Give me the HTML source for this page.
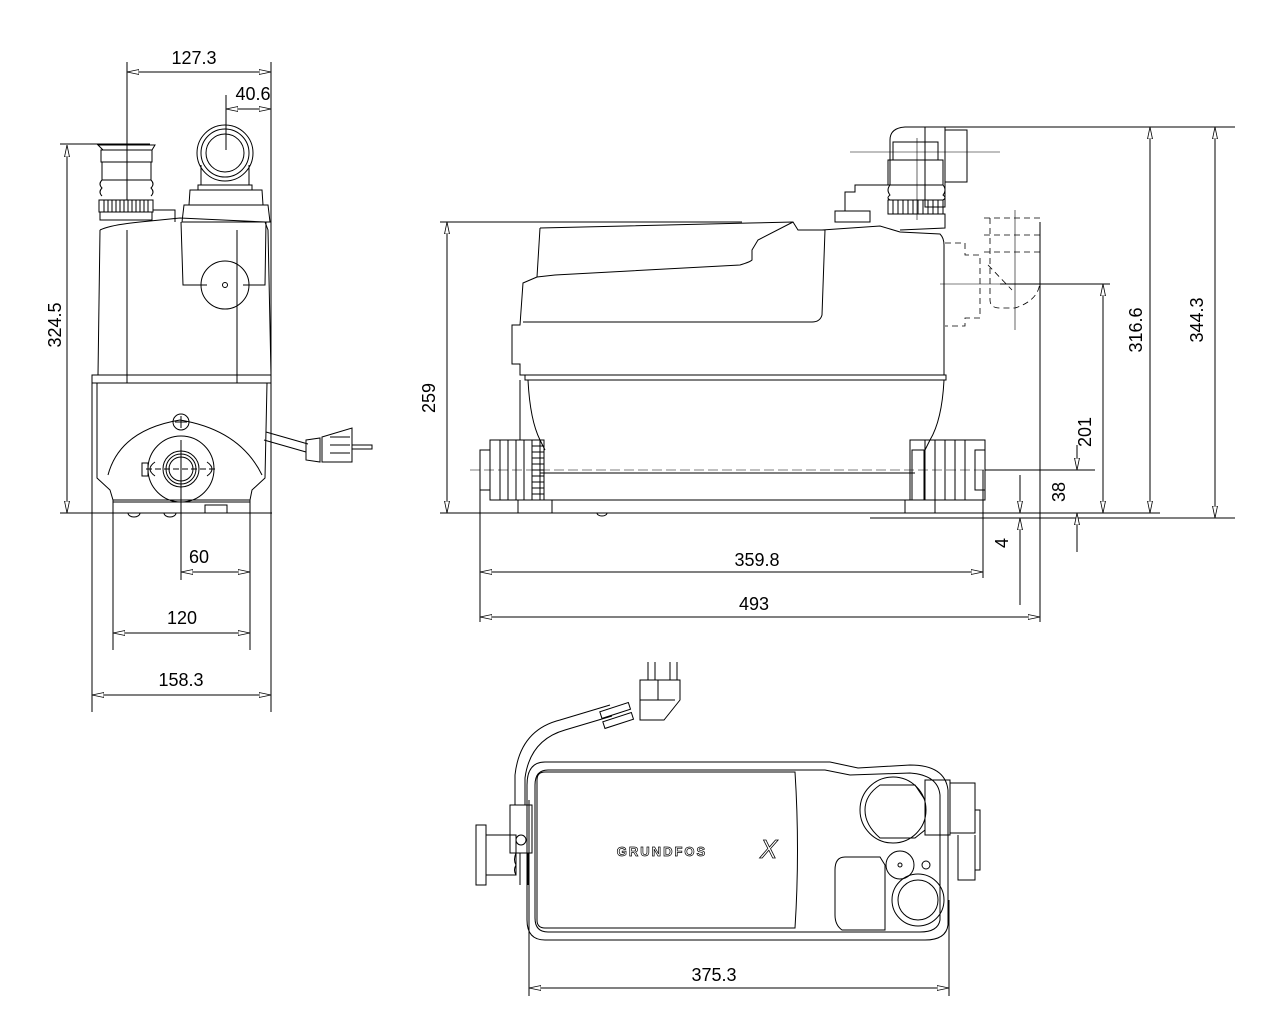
<!DOCTYPE html>
<html><head><meta charset="utf-8"><style>
html,body{margin:0;padding:0;background:#fff;}
svg{display:block}
text{font-family:"Liberation Sans",Arial,sans-serif;font-size:18px;fill:#000}
</style></head><body>
<svg width="1280" height="1024" viewBox="0 0 1280 1024" xmlns="http://www.w3.org/2000/svg">
<defs>
<marker id="a" viewBox="0 0 12 6" refX="12" refY="3" markerWidth="12" markerHeight="6" orient="auto-start-reverse" markerUnits="userSpaceOnUse">
<path d="M12,3 L0,0.5 L0,5.5 Z" fill="#fff" stroke="#000" stroke-width="0.8"/>
</marker>
</defs>
<g stroke="#000" stroke-width="1" fill="none">
<!-- ===== FRONT VIEW ===== -->
<line x1="127" y1="62" x2="127" y2="200"/>
<line x1="271" y1="62" x2="271" y2="712"/>
<line x1="226" y1="95" x2="226" y2="150"/>
<line x1="60" y1="144" x2="150" y2="144"/>
<line x1="60" y1="513" x2="272" y2="513"/>
<line x1="92" y1="375" x2="92" y2="712"/>
<line x1="113" y1="500" x2="113" y2="650"/>
<line x1="181" y1="440" x2="181" y2="580"/>
<line x1="250" y1="500" x2="250" y2="650"/>
<line x1="127" y1="72" x2="271" y2="72" marker-start="url(#a)" marker-end="url(#a)"/>
<line x1="226" y1="109" x2="271" y2="109" marker-start="url(#a)" marker-end="url(#a)"/>
<line x1="67" y1="145" x2="67" y2="513" marker-start="url(#a)" marker-end="url(#a)"/>
<line x1="181" y1="572" x2="250" y2="572" marker-start="url(#a)" marker-end="url(#a)"/>
<line x1="113" y1="633" x2="250" y2="633" marker-start="url(#a)" marker-end="url(#a)"/>
<line x1="92" y1="695" x2="271" y2="695" marker-start="url(#a)" marker-end="url(#a)"/>
<path d="M100,230 L98,375 M92,375 L271,375 L271,383 L92,383 Z M97,383 L97,478 L110,490 L113,500 L250,500 L252,490 L265,478 L267,383"/>
<path d="M100,230 Q110,225 140,222 L180,218 L265,222 L268,230 L271,375"/>
<line x1="127" y1="230" x2="127" y2="383"/>
<line x1="237" y1="230" x2="237" y2="383"/>
<path d="M113,500 L113,513 M250,500 L250,513 M113,502 L250,502"/>
<path d="M98,145 L155,145 L152,150 L103,150 Z"/>
<rect x="101" y="150" width="51" height="12"/>
<rect x="102" y="162" width="49" height="18"/>
<path d="M102,180 Q98,184 102,188 Q98,192 102,196 M151,180 Q155,184 151,188 Q155,192 151,196"/>
<rect x="99" y="200" width="54" height="12"/>
<path d="M104,200 v12 M108,200 v12 M112,200 v12 M116,200 v12 M120,200 v12 M124,200 v12 M128,200 v12 M132,200 v12 M136,200 v12 M140,200 v12 M144,200 v12 M148,200 v12"/>
<rect x="100" y="212" width="52" height="8"/>
<path d="M153,210 L175,210 L175,222"/>
<circle cx="225" cy="153" r="28"/><circle cx="225" cy="153" r="24"/><circle cx="225" cy="153" r="19"/>
<path d="M201,165 L201,185 M249,165 L249,185 M198,185 L252,185 L252,190 L198,190 Z"/>
<path d="M190,190 L262,190 L263,205 L189,205 Z M184,205 L268,205 L270,222 L182,222 Z"/>
<path d="M181,222 L183,285 L207,285 M243,285 L265,285 L266,222"/>
<circle cx="225" cy="285" r="24"/><circle cx="225" cy="285" r="2.5"/>
<path d="M108,475 Q120,430 180,420 Q240,430 262,475"/>
<circle cx="181" cy="422" r="8"/><line x1="175" y1="422" x2="187" y2="422"/><line x1="181" y1="416" x2="181" y2="428"/>
<circle cx="181" cy="469" r="33"/>
<path d="M155,462 Q145,469 155,476 M207,462 Q217,469 207,476"/>
<circle cx="181" cy="469" r="18"/><circle cx="181" cy="469" r="15"/><circle cx="181" cy="469" r="12"/>
<rect x="142" y="463" width="6" height="13"/>
<path d="M146,469 L216,469" stroke-dasharray="6,3"/>
<path d="M266,432 L308,444 M264,440 L306,452"/>
<path d="M306,440 L320,438 L320,462 L306,460 Z"/>
<path d="M322,437 L352,428 L352,462 L322,462 Z M330,437 L350,437 M330,445 L350,445 M330,453 L350,453 M352,445 L372,445 L372,449 L352,449"/>
<path d="M128,513 a6,4 0 0 0 12,0 M164,513 a6,4 0 0 0 12,0"/>
<rect x="205" y="505" width="22" height="8"/>

<!-- ===== SIDE VIEW ===== -->
<line x1="440" y1="222" x2="742" y2="222"/>
<line x1="440" y1="513" x2="1160" y2="513"/>
<line x1="870" y1="518" x2="1235" y2="518"/>
<line x1="945" y1="127" x2="1235" y2="127"/>
<line x1="1000" y1="284" x2="1110" y2="284"/>
<line x1="985" y1="470" x2="1095" y2="470"/>
<line x1="480" y1="460" x2="480" y2="622"/>
<line x1="983" y1="470" x2="983" y2="578"/>
<line x1="1040" y1="222" x2="1040" y2="622"/>
<line x1="447" y1="222" x2="447" y2="513" marker-start="url(#a)" marker-end="url(#a)"/>
<line x1="1150" y1="127" x2="1150" y2="513" marker-start="url(#a)" marker-end="url(#a)"/>
<line x1="1215" y1="127" x2="1215" y2="518" marker-start="url(#a)" marker-end="url(#a)"/>
<line x1="1103" y1="284" x2="1103" y2="513" marker-start="url(#a)" marker-end="url(#a)"/>
<line x1="1077" y1="445" x2="1077" y2="470" marker-end="url(#a)"/>
<line x1="1077" y1="552" x2="1077" y2="513" marker-end="url(#a)"/>
<line x1="1020" y1="475" x2="1020" y2="513" marker-end="url(#a)"/>
<line x1="1020" y1="605" x2="1020" y2="518" marker-end="url(#a)"/>
<line x1="480" y1="572" x2="983" y2="572" marker-start="url(#a)" marker-end="url(#a)"/>
<line x1="480" y1="617" x2="1040" y2="617" marker-start="url(#a)" marker-end="url(#a)"/>
<path d="M540,228 L750,223 L793,222 L798,230 L825,230 L822,315 Q820,322 812,322 L523,322"/>
<path d="M540,228 L537,277 L523,283 L520,325 L512,325 L512,364 L520,364 L520,375 L525,375"/>
<path d="M537,277 L555,275 L740,265 Q750,262 752,260 L752,250 L758,240 L793,222"/>
<path d="M822,230 L880,226 L900,232 L940,234 Q944,238 944,245 L944,375"/>
<rect x="525" y="375" width="421" height="5"/>
<path d="M528,380 Q530,420 540,440 L545,450 M944,380 Q942,420 930,440 L925,450"/>
<line x1="540" y1="473" x2="915" y2="473"/>
<line x1="540" y1="500" x2="915" y2="500"/>
<path d="M520,380 L520,440"/>
<rect x="490" y="440" width="50" height="60"/>
<rect x="480" y="450" width="10" height="40"/>
<path d="M490,440 v60 M500,440 v60 M508,440 v60 M516,440 v60 M524,440 v60"/>
<rect x="532" y="440" width="12" height="60"/>
<path d="M532,446 h12 M532,452 h12 M532,458 h12 M532,464 h12 M532,470 h12 M532,476 h12 M532,482 h12 M532,488 h12 M532,494 h12"/>
<rect x="518" y="500" width="34" height="13"/>
<rect x="910" y="440" width="75" height="60"/>
<rect x="975" y="450" width="10" height="40"/>
<path d="M925,440 v60 M935,440 v60 M945,440 v60 M955,440 v60 M965,440 v60"/>
<rect x="912" y="450" width="12" height="50"/>
<rect x="905" y="500" width="30" height="13"/>
<path d="M470,470 L995,470" stroke-dasharray="10,4" stroke-width="0.6"/>
<rect x="835" y="211" width="35" height="11"/>
<path d="M845,211 L845,192 L855,192 L855,185 L890,185 L890,140 Q890,128 905,127 L925,127"/>
<rect x="888" y="200" width="55" height="14"/>
<path d="M893,200 v14 M898,200 v14 M903,200 v14 M908,200 v14 M913,200 v14 M918,200 v14 M923,200 v14 M928,200 v14 M933,200 v14 M938,200 v14"/>
<path d="M888,214 L945,214 L945,228 L900,230"/>
<path d="M890,185 Q886,190 890,195 Q886,198 890,200 M943,185 Q947,190 943,195 Q947,198 943,200"/>
<rect x="888" y="160" width="55" height="25"/>
<rect x="893" y="142" width="45" height="18"/>
<rect x="925" y="127" width="20" height="80"/>
<rect x="945" y="130" width="22" height="52"/>
<line x1="850" y1="152" x2="1000" y2="152" stroke-width="0.6"/>
<line x1="917" y1="138" x2="917" y2="220" stroke-width="0.6"/>
<g stroke-dasharray="6,4" stroke-width="0.8">
<path d="M945,243 L965,243 L965,255 L980,255 L980,318 L965,318 L965,326 L945,326"/>
<path d="M984,218 L1040,218 M984,235 L1040,235 M984,252 L1040,252 M990,218 L990,300 Q990,308 1000,308 L1015,308 Q1040,300 1040,280 L1040,252"/>
<path d="M988,265 L1012,290"/>
</g>
<line x1="940" y1="284" x2="1070" y2="284" stroke-width="0.6"/>
<line x1="1015" y1="210" x2="1015" y2="330" stroke-width="0.6"/>
<path d="M597,513 a5,3 0 0 0 10,0"/>

<!-- ===== TOP VIEW ===== -->
<line x1="529" y1="800" x2="529" y2="996"/>
<line x1="949" y1="900" x2="949" y2="996"/>
<line x1="529" y1="988" x2="949" y2="988" marker-start="url(#a)" marker-end="url(#a)"/>
<path d="M545,762 L830,762 L858,768 L910,765 Q945,765 948,790 L948,925 Q946,940 925,940 L545,940 Q527,940 527,920 L527,785 Q527,762 545,762 Z"/>
<path d="M548,770 L825,770 L850,775 L910,773 Q938,775 940,795 L940,920 Q938,932 920,932 L548,932 Q535,932 535,918 L535,785 Q535,770 548,770 Z"/>
<path d="M545,772 L795,772 Q800,850 795,928 L545,928 Q537,928 537,920 L537,780 Q537,772 545,772 Z"/>
<circle cx="893" cy="810" r="33"/>
<path d="M880,785 L915,785 L925,800 L925,830 L915,838 L880,838 Q865,825 865,810 Q865,795 880,785 Z"/>
<rect x="925" y="780" width="25" height="55"/>
<rect x="950" y="783" width="25" height="50"/>
<path d="M958,835 L958,880 L975,880 L975,835 M975,810 L980,810 L980,870 L975,870"/>
<path d="M845,857 L880,857 L885,865 L885,930 L842,930 Q835,925 835,915 L835,870 Q835,857 845,857 Z"/>
<circle cx="900" cy="865" r="14"/><circle cx="900" cy="865" r="2"/>
<circle cx="918" cy="900" r="26"/><circle cx="918" cy="900" r="20"/>
<circle cx="926" cy="865" r="4"/>
<rect x="476" y="825" width="10" height="60"/>
<rect x="486" y="835" width="30" height="40"/>
<rect x="510" y="805" width="22" height="48"/>
<circle cx="521" cy="840" r="5"/>
<path d="M516,853 Q513,860 516,865 Q513,870 516,875 M520,853 L520,885 M528,853 L528,885"/>
<path d="M515,805 L515,775 Q520,730 560,720 L610,705 M525,805 L525,778 Q530,740 565,730 L612,716"/>
<rect x="600" y="707" width="30" height="7" transform="rotate(-18 615 710)"/>
<rect x="603" y="717" width="30" height="7" transform="rotate(-18 618 720)"/>
<path d="M640,680 L680,680 L680,700 L664,720 L640,720 Z M640,700 L675,700"/>
<path d="M648,680 L648,662 M655,680 L655,662 M670,680 L670,662 M677,680 L677,662 M658,680 v20"/>
</g>
<text x="194" y="64" text-anchor="middle">127.3</text>
<text x="253" y="100" text-anchor="middle">40.6</text>
<text x="199" y="563" text-anchor="middle">60</text>
<text x="182" y="624" text-anchor="middle">120</text>
<text x="181" y="686" text-anchor="middle">158.3</text>
<text transform="translate(56,325) rotate(-90)" text-anchor="middle" dominant-baseline="middle">324.5</text>
<text transform="translate(430,398) rotate(-90)" text-anchor="middle" dominant-baseline="middle">259</text>
<text transform="translate(1137,330) rotate(-90)" text-anchor="middle" dominant-baseline="middle">316.6</text>
<text transform="translate(1198,320) rotate(-90)" text-anchor="middle" dominant-baseline="middle">344.3</text>
<text transform="translate(1086,432) rotate(-90)" text-anchor="middle" dominant-baseline="middle">201</text>
<text transform="translate(1060,492) rotate(-90)" text-anchor="middle" dominant-baseline="middle">38</text>
<text transform="translate(1003,543) rotate(-90)" text-anchor="middle" dominant-baseline="middle">4</text>
<text x="757" y="566" text-anchor="middle">359.8</text>
<text x="754" y="610" text-anchor="middle">493</text>
<text x="714" y="981" text-anchor="middle">375.3</text>
<text x="662" y="856" text-anchor="middle" style="font-size:13px;font-weight:bold;letter-spacing:2px;fill:#fff;stroke:#000;stroke-width:0.7">GRUNDFOS</text>
<text x="760" y="858" style="font-size:26px;font-style:italic;fill:#fff;stroke:#000;stroke-width:0.8">X</text>
</svg>
</body></html>
